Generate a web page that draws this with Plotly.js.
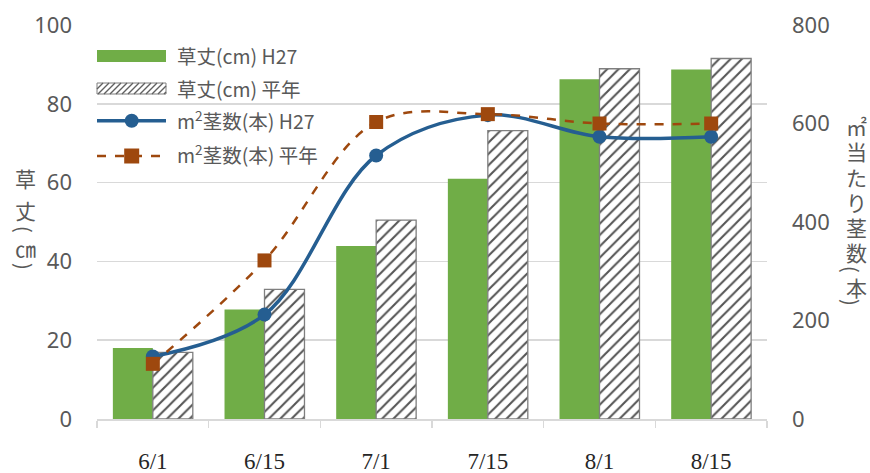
<!DOCTYPE html>
<html>
<head>
<meta charset="utf-8">
<script src="https://cdn.plot.ly/plotly-3.0.1.min.js"></script>
<style>html,body{margin:0;padding:0;background:#fff;}#chart{width:870px;height:473px;}</style>
</head>
<body>
<div id="chart"></div>
<script>
// ---- data ----
const categories = ['6/1', '6/15', '7/1', '7/15', '8/1', '8/15'];
const heightH27 = [18.0, 27.8, 43.9, 61.0, 86.2, 88.7];
const heightAvg = [16.9, 32.9, 50.5, 73.2, 88.9, 91.5];
const stemsH27 = [127, 212, 535, 617, 573, 573];
const stemsAvg = [112, 322, 603, 619, 600, 600];
const seriesNames = ['草丈(cm) H27', '草丈(cm) 平年', 'm<sup>2</sup>茎数(本) H27', 'm<sup>2</sup>茎数(本) 平年'];
const leftTicks = [0, 20, 40, 60, 80, 100];
const rightTicks = [0, 200, 400, 600, 800];
const leftTitleChars = ['草', '丈', '(', '㎝', ')'];
const rightTitleChars = ['㎡', '当', 'た', 'り', '茎', '数', '(', '本', ')'];

// ---- styles ----
const GREEN = '#70AD47', BLUE = '#255E91', ORANGE = '#9E480E', GRAY = '#595959', GRID = '#D9D9D9';
const W = 870, H = 473, L = 97, R = 767, T = 25, B = 419;
const px = x => (x - L) / (R - L);
const py = y => (B - y) / (B - T);
const JP = '"Noto Sans CJK JP", "Noto Sans", sans-serif';

const traces = [
  {type: 'bar', x: categories, y: heightH27, name: seriesNames[0], marker: {color: GREEN, line: {width: 0}}, showlegend: false, yaxis: 'y'},
  {type: 'bar', x: categories, y: heightAvg, name: seriesNames[1],
   marker: {color: 'white', line: {color: '#7F7F7F', width: 1.3},
            pattern: {shape: '/', fgcolor: '#555555', bgcolor: 'white', size: 8, solidity: 0.26}},
   showlegend: false, yaxis: 'y'},
  {type: 'scatter', mode: 'lines+markers', x: categories, y: stemsH27, name: seriesNames[2], yaxis: 'y2',
   line: {color: BLUE, width: 3.5, shape: 'spline', smoothing: 1},
   marker: {symbol: 'circle', size: 14, color: BLUE}, showlegend: false},
  {type: 'scatter', mode: 'lines+markers', x: categories, y: stemsAvg, name: seriesNames[3], yaxis: 'y2',
   line: {color: ORANGE, width: 2.5, dash: 'dash', shape: 'spline', smoothing: 1},
   marker: {symbol: 'square', size: 14, color: ORANGE}, showlegend: false}
];

// ---- custom legend ----
const shapes = [];
const annotations = [];
const sx0 = 97, sx1 = 166, mid = 131.7, tx = 175;
shapes.push({type: 'rect', xref: 'paper', yref: 'paper', x0: px(sx0), x1: px(sx1), y0: py(62), y1: py(50), fillcolor: GREEN, line: {width: 0}});
shapes.push({type: 'rect', xref: 'paper', yref: 'paper', x0: px(sx0), x1: px(sx1), y0: py(94), y1: py(83), fillcolor: 'white', line: {color: '#7F7F7F', width: 1}});
(function () {
  const top = 83, bot = 94, h = bot - top;
  let d = '';
  for (let a = sx0 - h; a < sx1; a += 6) {
    let xs = a, ys = bot, xe = a + h, ye = top;
    if (xs < sx0) { ys = bot - (sx0 - xs); xs = sx0; }
    if (xe > sx1) { ye = top + (xe - sx1); xe = sx1; }
    d += `M${px(xs)},${py(ys)}L${px(xe)},${py(ye)}`;
  }
  shapes.push({type: 'path', xref: 'paper', yref: 'paper', path: d, line: {color: '#606060', width: 1.4}});
})();
shapes.push({type: 'line', xref: 'paper', yref: 'paper', x0: px(sx0), x1: px(sx1), y0: py(120.7), y1: py(120.7), line: {color: BLUE, width: 3.5}});
shapes.push({type: 'circle', xref: 'paper', yref: 'paper', x0: px(mid - 7), x1: px(mid + 7), y0: py(127.7), y1: py(113.7), fillcolor: BLUE, line: {width: 0}});
shapes.push({type: 'line', xref: 'paper', yref: 'paper', x0: px(sx0), x1: px(sx1), y0: py(156), y1: py(156), line: {color: ORANGE, width: 2.5, dash: 'dash'}});
shapes.push({type: 'rect', xref: 'paper', yref: 'paper', x0: px(mid - 7.5), x1: px(mid + 7.5), y0: py(163.5), y1: py(148.5), fillcolor: ORANGE, line: {width: 0}});
const legendY = [55, 88, 120, 154];
seriesNames.forEach((n, i) => annotations.push({
  xref: 'paper', yref: 'paper', x: px(tx), y: py(legendY[i]), xanchor: 'left', yanchor: 'middle',
  text: n, showarrow: false, font: {family: JP, size: 19.5, color: GRAY}
}));
// vertical axis titles, one character per annotation; brackets turned upright like vertical text
const leftY = [178, 210, 229, 248, 266];
leftTitleChars.forEach((c, i) => {
  const paren = (c === '(' || c === ')');
  annotations.push({xref: 'paper', yref: 'paper', x: px(25), y: py(leftY[i]), xanchor: 'center', yanchor: 'middle',
    showarrow: false, text: c, textangle: paren ? 90 : 0, font: {family: JP, size: paren ? 20 : 21, color: GRAY}});
});
const rightY = [126, 151, 177, 202, 227, 252, 269, 287, 302];
rightTitleChars.forEach((c, i) => {
  const paren = (c === '(' || c === ')');
  annotations.push({xref: 'paper', yref: 'paper', x: px(paren ? 852 : 856), y: py(rightY[i]), xanchor: 'center', yanchor: 'middle',
    showarrow: false, text: c, textangle: paren ? 90 : 0, font: {family: JP, size: paren ? 20 : 21, color: GRAY}});
});

const layout = {
  width: W, height: H,
  margin: {l: L, r: W - R, t: T, b: H - B, pad: 0},
  paper_bgcolor: 'white', plot_bgcolor: 'white',
  barmode: 'group', bargap: 0.284, bargroupgap: 0,
  showlegend: false,
  xaxis: {type: 'category', tickson: 'boundaries', ticks: 'outside', ticklen: 7, tickcolor: GRID, tickwidth: 1.5,
          showline: true, linecolor: GRID, linewidth: 1.5, showgrid: false, ticklabelstandoff: 21,
          tickfont: {family: '"Liberation Serif", "DejaVu Serif", serif', size: 23, color: '#262626'}},
  yaxis: {range: [0, 100], tickvals: leftTicks, showgrid: true, gridcolor: GRID, gridwidth: 1.5, zeroline: false,
          ticks: '', ticklabelstandoff: 24, tickfont: {family: '"Noto Sans", sans-serif', size: 22, color: GRAY}},
  yaxis2: {range: [0, 800], tickvals: rightTicks, overlaying: 'y', side: 'right', showgrid: false, zeroline: false,
           ticks: '', ticklabelstandoff: 24, tickfont: {family: '"Noto Sans", sans-serif', size: 22, color: GRAY}},
  shapes: shapes,
  annotations: annotations
};

Plotly.newPlot('chart', traces, layout, {displayModeBar: false, staticPlot: true});
</script>
</body>
</html>
